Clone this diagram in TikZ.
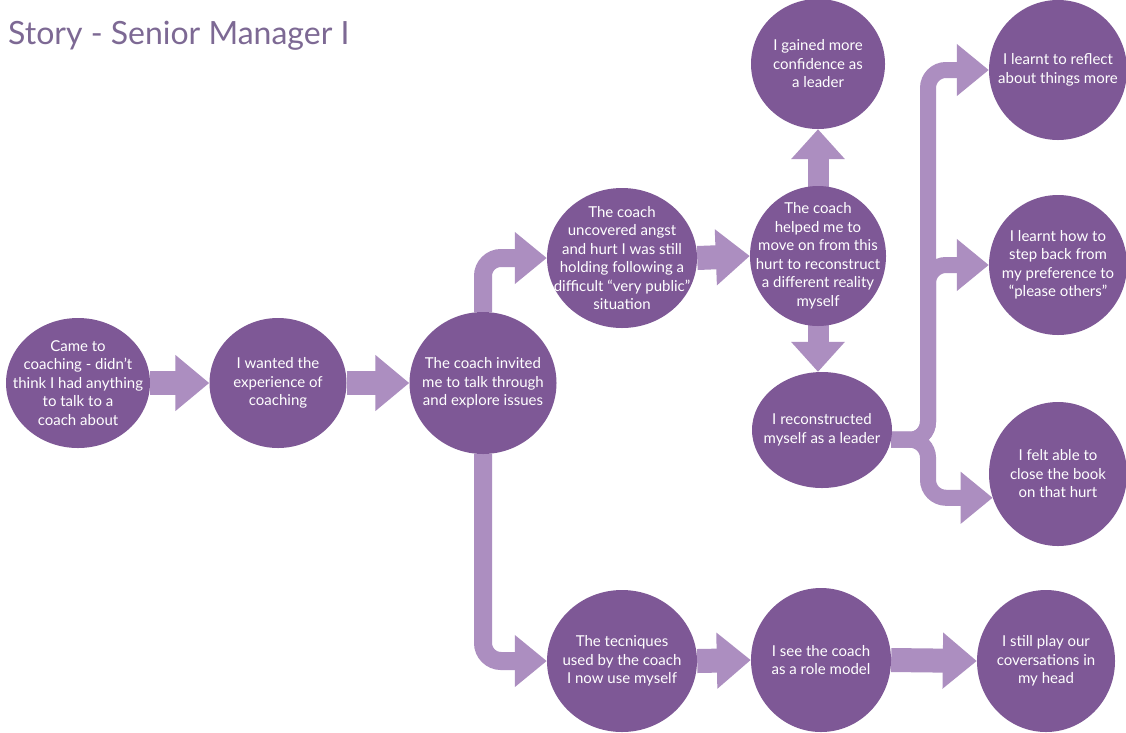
\documentclass[tikz,border=0pt]{standalone}
\usepackage{fontspec}
\setmainfont{Lato}
\usetikzlibrary{arrows.meta,shapes.geometric}
\definecolor{nodefill}{RGB}{126,88,150}
\definecolor{flow}{RGB}{172,142,192}
\definecolor{titlecol}{RGB}{125,105,148}
\pgfdeclarelayer{background}
\pgfsetlayers{background,main}
\begin{document}
\begin{tikzpicture}[x=1pt,y=-1pt,
  story/.style={ellipse, fill=nodefill, inner sep=0pt, minimum width=140pt, minimum height=134pt},
  storytext/.style={text=white, align=center, inner sep=0pt, font=\fontsize{15}{18.5}\selectfont},
  flowarrow/.style={draw=flow, line width=24pt, -{Triangle[width=54pt,length=34pt]}},
  vertarrow/.style={draw=flow, line width=21pt, -{Triangle[width=52pt,length=30pt]}},
  bentarrow/.style={draw=flow, line width=18pt, rounded corners=18pt,
    -{Triangle[width=50pt,length=32pt]}}
]
\begin{pgfonlayer}{background}
\fill[white] (0,0) rectangle (1126,732);
\end{pgfonlayer}
\useasboundingbox (0,0) rectangle (1126,732);

% title
\node[anchor=base west, inner sep=0pt, text=titlecol, font=\fontsize{32}{32}\selectfont] (title) at (8,44) {Story - Senior Manager I};

% main row
\node[story, minimum width=144pt, minimum height=130pt] (n1) at (78,383) {};
\node[story, minimum width=137pt, minimum height=130pt] (n2) at (278,383) {};
\node[story, minimum width=147pt, minimum height=142pt] (n3) at (483,383) {};
% upper branch
\node[story, minimum width=150pt, minimum height=140pt] (n4) at (622,258) {};
\node[story, minimum width=136pt, minimum height=140pt] (n5) at (818,256) {};
\node[story, minimum width=134pt, minimum height=130pt] (n6) at (818,64) {};
\node[story, minimum width=140pt, minimum height=116pt] (n7) at (822,430) {};
\node[story, minimum width=138pt, minimum height=140pt] (n8) at (1058,70) {};
\node[story, minimum width=138pt, minimum height=140pt] (n9) at (1058,265) {};
\node[story, minimum width=138pt, minimum height=144pt] (n10) at (1058,474) {};
% lower branch
\node[story, minimum width=150pt, minimum height=142pt] (n11) at (622,661) {};
\node[story, minimum width=140pt, minimum height=144pt] (n12) at (821,660) {};
\node[story, minimum width=138pt, minimum height=142pt] (n13) at (1046,661) {};

\node[storytext] (t1) at (n1) {Came to\\coaching - didn’t\\think I had anything\\to talk to a\\coach about};
\node[storytext] (t2) at (n2) {I wanted the\\experience of\\coaching};
\node[storytext] (t3) at (n3) {The coach invited\\me to talk through\\and explore issues};
\node[storytext] (t4) at (n4) {The coach\\uncovered angst\\and hurt I was still\\holding following a\\difficult “very public”\\situation};
\node[storytext] (t5) at (n5) {The coach\\helped me to\\move on from this\\hurt to reconstruct\\a different reality\\myself};
\node[storytext] (t6) at (n6) {I gained more\\confidence as\\a leader};
\node[storytext] (t7) at (n7) {I reconstructed\\myself as a leader};
\node[storytext] (t8) at (n8) {I learnt to reflect\\about things more};
\node[storytext] (t9) at (n9) {I learnt how to\\step back from\\my preference to\\“please others”};
\node[storytext] (t10) at (n10) {I felt able to\\close the book\\on that hurt};
\node[storytext] (t11) at (n11) {The tecniques\\used by the coach\\I now use myself};
\node[storytext] (t12) at (n12) {I see the coach\\as a role model};
\node[storytext] (t13) at (n13) {I still play our\\coversations in\\my head};

% connectors, kept behind the ellipses
\coordinate (bus) at (928,0);
\begin{pgfonlayer}{background}
\draw[flowarrow] (n1.east) -- (n2.west);
\draw[flowarrow] (n2.east) -- (n3.west);
\draw[bentarrow] (n3.north) |- (n4.west);
\draw[bentarrow] (n3.south) |- (n11.west);
\draw[flowarrow] (n4.east) -- (n5.west);
\draw[vertarrow] (n5.center) -- (n6.south);
\draw[vertarrow] (n5.center) -- (n5.center |- n7.north);
\draw[bentarrow, line width=16pt] (n7.-8) -- (n7.-8 -| bus) |- (n8.west);
\draw[bentarrow, line width=16pt] (n7.-8) -- (n7.-8 -| bus) |- (n9.west);
\draw[bentarrow, line width=16pt] (n7.-8) -- (n7.-8 -| bus) |- (n10.200);
\draw[flowarrow] (n11.east) -- (n12.west);
\draw[flowarrow] (n12.east) -- (n13.west);
\end{pgfonlayer}
\end{tikzpicture}
\end{document}
